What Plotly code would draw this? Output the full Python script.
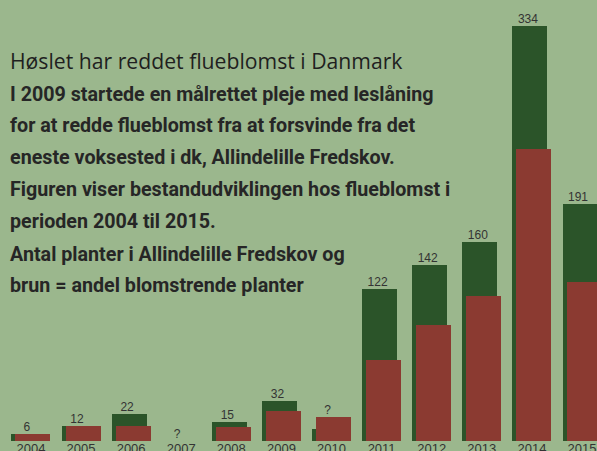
import plotly.graph_objects as go

years = ["2004", "2005", "2006", "2007", "2008", "2009", "2010", "2011", "2012", "2013", "2014", "2015"]
total_plants = [6, 12, 22, 0, 15, 32, 10, 122, 142, 160, 334, 191]
flowering_plants = [6, 12, 12, 0, 11, 24, 19, 65, 93, 117, 235, 128]
value_labels = ["6", "12", "22", "?", "15", "32", "?", "122", "142", "160", "334", "191"]

title_text = "Høslet har reddet flueblomst i Danmark"
subtitle_lines = [
    "I 2009 startede en målrettet pleje med leslåning",
    "for at redde flueblomst fra at forsvinde fra det",
    "eneste voksested i dk, Allindelille Fredskov.",
    "Figuren viser bestandudviklingen hos flueblomst i",
    "perioden 2004 til 2015.",
    "Antal planter i Allindelille Fredskov og",
    "brun = andel blomstrende planter",
]

BG = "#9bb78d"
GREEN = "#2b5429"
RED = "#8b3a31"
TEXT = "#262626"

W, H = 597, 451
PLOT_BOTTOM = 441  # pixel row of the baseline
idx = list(range(len(years)))
bar_w = 0.699

fig = go.Figure()
fig.add_trace(go.Bar(x=idx, y=total_plants, width=bar_w, offset=-0.04 - bar_w / 2,
                     marker=dict(color=GREEN, line=dict(width=0)), hoverinfo="skip"))
fig.add_trace(go.Bar(x=idx, y=flowering_plants, width=bar_w, offset=0.04 - bar_w / 2,
                     marker=dict(color=RED, line=dict(width=0)), hoverinfo="skip"))
label_y = [max(a, b) for a, b in zip(total_plants, flowering_plants)]
fig.add_trace(go.Scatter(x=[i - 0.08 for i in idx], y=label_y, mode="text", text=value_labels,
                         textposition="top center",
                         textfont=dict(family="Liberation Sans, Arial", size=12, color="#333333"),
                         hoverinfo="skip"))

annotations = []
def ypx(px):
    return (PLOT_BOTTOM - px) / PLOT_BOTTOM

annotations.append(dict(text=title_text, x=8 / W, xref="paper", xanchor="left",
                        y=ypx(60), yref="paper", yanchor="middle", showarrow=False,
                        font=dict(family="Open Sans", size=21.2, color="#1f1f1f", weight=500)))
centers = [94.7, 125.7, 157.3, 189.7, 221.3, 254, 285.3]
for line, c in zip(subtitle_lines, centers):
    annotations.append(dict(text=line, x=8 / W, xref="paper", xanchor="left",
                            y=ypx(c), yref="paper", yanchor="middle", showarrow=False,
                            font=dict(family="Roboto", size=19.7, color=TEXT, weight="bold")))

fig.update_layout(
    width=W, height=H,
    margin=dict(l=0, r=0, t=0, b=H - PLOT_BOTTOM, pad=0),
    paper_bgcolor=BG, plot_bgcolor=BG,
    barmode="overlay", bargap=0,
    showlegend=False,
    template="none",
    annotations=annotations,
    xaxis=dict(range=[-0.617, 11.299], tickmode="array", tickvals=idx, ticktext=years,
               showgrid=False, zeroline=False, showline=False, ticks="", automargin=False,
               ticklabelstandoff=-2,
               tickfont=dict(family="Liberation Sans, Arial", size=13, color="#333333"),
               fixedrange=True),
    yaxis=dict(range=[0, PLOT_BOTTOM / 1.2425], visible=False, showgrid=False,
               zeroline=False, automargin=False, fixedrange=True),
)

fig.write_html("out.html", config={"displayModeBar": False},
               post_script="document.body.style.margin='0';document.body.style.overflow='hidden';")
